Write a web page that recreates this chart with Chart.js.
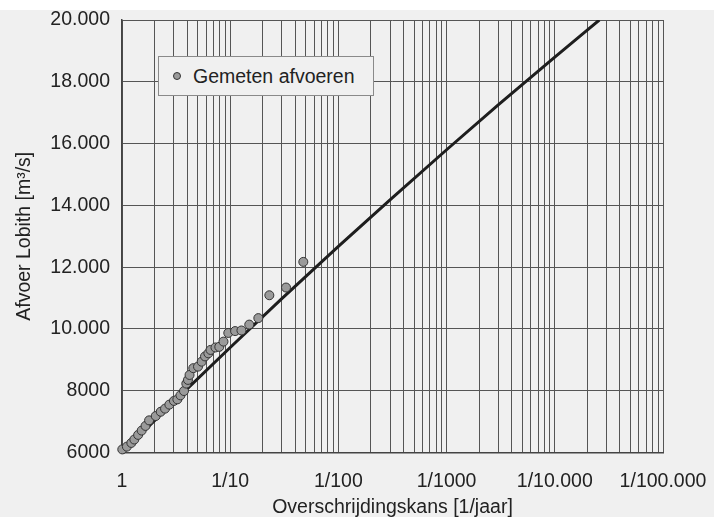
<!DOCTYPE html>
<html>
<head>
<meta charset="utf-8">
<script src="https://cdn.jsdelivr.net/npm/chart.js@4"></script>
<style>
  html, body { margin: 0; padding: 0; background: #ffffff; }
  #wrap { position: relative; width: 714px; height: 517px; }
  #afvoerChart { position: absolute; left: 0; top: 10px; background: #f0f0f0; }
  #legendBox {
    position: absolute; left: 158px; top: 56px; width: 214px; height: 38px;
    background: #f0f0f0; border: 1px solid #8a8a8a;
    font-family: "Liberation Sans", Arial, sans-serif; font-size: 19.5px; color: #222;
    display: flex; align-items: center;
  }
  #legendBox .dot {
    width: 6px; height: 6px; border-radius: 50%; background: #9a9a9a;
    border: 1px solid #333; margin-left: 14px; margin-right: 12px;
  }
</style>
</head>
<body>
<div id="wrap">
  <canvas id="afvoerChart" width="714" height="507"></canvas>
  <div id="legendBox"><span class="dot"></span><span>Gemeten afvoeren</span></div>
</div>
<script>
// Gemeten afvoeren: herhalingstijd (jaar) en afvoer (m3/s)
const measuredYears = [1.006, 1.11, 1.22, 1.30, 1.41, 1.52, 1.65, 1.78, 2.05, 2.28, 2.50, 2.74,
    3.02, 3.25, 3.47, 3.74, 3.93, 4.07, 4.21, 4.56, 5.04, 5.45, 5.85, 6.28, 6.58, 7.31,
    7.93, 8.67, 9.60, 11.1, 12.7, 15.0, 18.2, 23.0, 32.8, 47.4];
const measuredFlow = [6100, 6190, 6310, 6420, 6570, 6710, 6860, 7040, 7180, 7320, 7420, 7550,
    7670, 7720, 7850, 7990, 8230, 8350, 8510, 8730, 8780, 8940, 9110, 9210, 9320, 9400,
    9420, 9590, 9870, 9930, 9950, 10140, 10350, 11090, 11340, 12170];

// Werklijn
const fitYears = [1, 3, 10, 30, 100, 300, 1000, 3000, 10000, 25800];
const fitFlow = [6000, 7640, 9400, 10980, 12670, 14180, 15800, 17250, 18800, 20000];

// As-labels
const xTickLabels = ["1", "1/10", "1/100", "1/1000", "1/10.000", "1/100.000"];
const yTicks = [6000, 8000, 10000, 12000, 14000, 16000, 18000, 20000];

const FONT = "'Liberation Sans', Arial, sans-serif";

function fmtDutch(v) {
    if (v < 10000) return String(v);
    return Math.floor(v / 1000) + "." + String(v % 1000).padStart(3, "0");
}

const ctx = document.getElementById("afvoerChart").getContext("2d");

const afvoerChart = new Chart(ctx, {
    type: "scatter",
    data: {
        datasets: [{
            label: "Gemeten afvoeren",
            data: measuredYears.map((t, i) => ({ x: t, y: measuredFlow[i] })),
            backgroundColor: "#9a9a9a",
            borderColor: "#333333",
            borderWidth: 1,
            pointRadius: 4.5,
            clip: false,
            order: 0
        }, {
            label: "Werklijn",
            type: "line",
            data: fitYears.map((t, i) => ({ x: t, y: fitFlow[i] })),
            borderColor: "#1e1e1e",
            borderWidth: 3,
            pointRadius: 0,
            cubicInterpolationMode: "monotone",
            fill: false,
            order: 1
        }]
    },
    options: {
        responsive: false,
        animation: false,
        devicePixelRatio: 1,
        layout: { padding: { top: 10, right: 51, left: 0, bottom: 0 } },
        plugins: {
            legend: { display: false },
            tooltip: { enabled: false }
        },
        scales: {
            x: {
                type: "logarithmic",
                min: 1,
                max: 100000,
                afterBuildTicks: (scale) => {
                    const ticks = [];
                    for (let e = 0; e < 5; e++) {
                        for (let s = 1; s < 10; s++) ticks.push({ value: s * Math.pow(10, e) });
                    }
                    ticks.push({ value: 100000 });
                    scale.ticks = ticks;
                },
                afterFit: (scale) => {
                    scale.height = 64.5;
                    scale.paddingLeft = 0;
                    scale.paddingRight = 0;
                },
                grid: { color: "#555555", lineWidth: 1, drawTicks: false },
                border: { color: "#444444", width: 1.5 },
                ticks: {
                    autoSkip: false,
                    maxRotation: 0,
                    padding: 17,
                    color: "#222222",
                    font: { family: FONT, size: 19.5 },
                    callback: function (value) {
                        const e = Math.log10(value);
                        if (Math.abs(e - Math.round(e)) < 1e-9) return xTickLabels[Math.round(e)];
                        return "";
                    }
                },
                title: {
                    display: true,
                    text: "Overschrijdingskans [1/jaar]",
                    color: "#222222",
                    font: { family: FONT, size: 19.5, lineHeight: 1.0 },
                    padding: { top: 0, bottom: 0 }
                }
            },
            y: {
                min: yTicks[0],
                max: yTicks[yTicks.length - 1],
                afterBuildTicks: (scale) => {
                    scale.ticks = yTicks.map(v => ({ value: v }));
                },
                afterFit: (scale) => {
                    scale.width = 122;
                    scale.paddingTop = 0;
                    scale.paddingBottom = 0;
                },
                grid: { color: "#555555", lineWidth: 1, drawTicks: false },
                border: { color: "#444444", width: 1.5 },
                ticks: {
                    padding: 12,
                    color: "#222222",
                    font: { family: FONT, size: 19.5 },
                    callback: (value) => fmtDutch(value)
                },
                title: {
                    display: true,
                    text: "Afvoer Lobith [m³/s]",
                    color: "#222222",
                    font: { family: FONT, size: 19.5 },
                    padding: { top: 13, bottom: 0 }
                }
            }
        }
    }
});
</script>
</body>
</html>
